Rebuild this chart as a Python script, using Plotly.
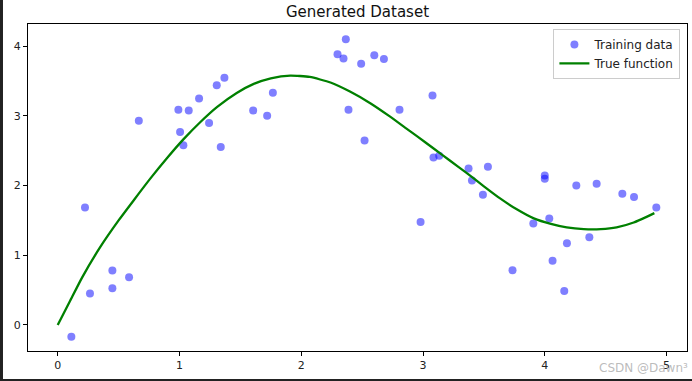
import plotly.graph_objects as go

# Training data
train_x = [0.112, 0.224, 0.265, 0.449, 0.449, 0.586, 0.666, 0.991, 1.005, 1.032,
           1.076, 1.161, 1.243, 1.306, 1.339, 1.369, 1.605, 1.720, 1.767, 2.298,
           2.347, 2.366, 2.388, 2.492, 2.520, 2.600, 2.679, 2.807, 2.980, 3.078,
           3.086, 3.133, 3.374, 3.402, 3.492, 3.533, 3.735, 3.906, 4.000, 4.000,
           4.037, 4.064, 4.160, 4.182, 4.259, 4.366, 4.426, 4.637, 4.733, 4.916]
train_y = [-0.168, 1.685, 0.450, 0.780, 0.527, 0.685, 2.930, 3.090, 2.770, 2.580,
           3.080, 3.250, 2.900, 3.440, 2.553, 3.550, 3.080, 3.003, 3.333, 3.884,
           3.826, 4.100, 3.089, 3.750, 2.648, 3.870, 3.817, 3.089, 1.476, 3.295,
           2.404, 2.428, 2.246, 2.073, 1.868, 2.270, 0.786, 1.455, 2.145, 2.098,
           1.527, 0.920, 0.489, 1.173, 2.000, 1.260, 2.026, 1.882, 1.835, 1.685]

# True function
true_x = [0.0, 0.10, 0.20, 0.35, 0.50, 0.62, 0.76, 0.90, 1.03, 1.17, 1.31, 1.47,
          1.61, 1.75, 1.91, 2.07, 2.24, 2.40, 2.57, 2.73, 2.87, 2.95, 3.09, 3.22,
          3.36, 3.50, 3.63, 3.77, 3.91, 4.05, 4.18, 4.32, 4.46, 4.59, 4.73, 4.90]
true_y = [0.0, 0.34, 0.68, 1.12, 1.50, 1.78, 2.10, 2.40, 2.66, 2.91, 3.13, 3.33,
          3.46, 3.54, 3.58, 3.56, 3.48, 3.35, 3.18, 2.99, 2.81, 2.71, 2.53, 2.36,
          2.18, 1.99, 1.82, 1.66, 1.53, 1.45, 1.40, 1.375, 1.375, 1.40, 1.47, 1.605]

x_ticks = [0, 1, 2, 3, 4, 5]
y_ticks = [0, 1, 2, 3, 4]

FONT = "DejaVu Sans"

fig = go.Figure()
fig.add_trace(go.Scatter(
    x=train_x, y=train_y, mode="markers", name="Training data",
    marker=dict(size=8, color="rgba(0,0,255,0.5)", line=dict(width=0)),
))
fig.add_trace(go.Scatter(
    x=true_x, y=true_y, mode="lines", name="True function",
    line=dict(color="green", width=2.3, shape="spline", smoothing=0.5),
))

axis_common = dict(
    showgrid=False, zeroline=False, showline=True, linecolor="black",
    linewidth=1, mirror=True, ticks="outside", ticklen=4, tickwidth=1,
    tickcolor="black", tickfont=dict(family=FONT, size=11, color="#222"),
    automargin=False,
)

PW, PH = 658.7, 327.0

fig.update_layout(
    width=692, height=381,
    margin=dict(l=28, r=5, t=24, b=30, autoexpand=False),
    paper_bgcolor="white", plot_bgcolor="white",
    font=dict(family=FONT, size=11, color="#222"),
    title=dict(text="Generated Dataset", x=0.5, xref="paper", xanchor="center",
               y=1 - 12 / 381, yref="container", yanchor="middle",
               font=dict(family=FONT, size=15, color="#111")),
    xaxis=dict(range=[-0.244, 5.168], tickvals=x_ticks, **axis_common),
    yaxis=dict(range=[-0.374, 4.32], tickvals=y_ticks, **axis_common),
    legend=dict(x=0.99, y=0.985, xanchor="right", yanchor="top",
                bgcolor="rgba(255,255,255,0.8)", bordercolor="#cccccc",
                borderwidth=1, font=dict(family=FONT, size=12, color="#222"),
                tracegroupgap=0, itemwidth=30),
    showlegend=True,
    shapes=[
        dict(type="rect", xref="paper", yref="paper", x0=-28 / PW, x1=-25 / PW,
             y0=-30 / PH, y1=1 + 24 / PH, fillcolor="#222222", line=dict(width=0),
             layer="above"),
        dict(type="rect", xref="paper", yref="paper", x0=-28 / PW, x1=1 + 5 / PW,
             y0=-30 / PH, y1=-28 / PH, fillcolor="#222222", line=dict(width=0),
             layer="above"),
    ],
    annotations=[
        dict(text="CSDN @Dawn³", xref="paper", yref="paper",
             x=1 + 3 / PW, y=-17 / PH, xanchor="right", yanchor="middle",
             showarrow=False,
             font=dict(family=FONT, size=12, color="rgba(175,175,175,0.85)")),
    ],
)

fig.write_html("out.html", config={"displayModeBar": False},
               post_script="document.body.style.margin='0';document.body.style.padding='0';")
